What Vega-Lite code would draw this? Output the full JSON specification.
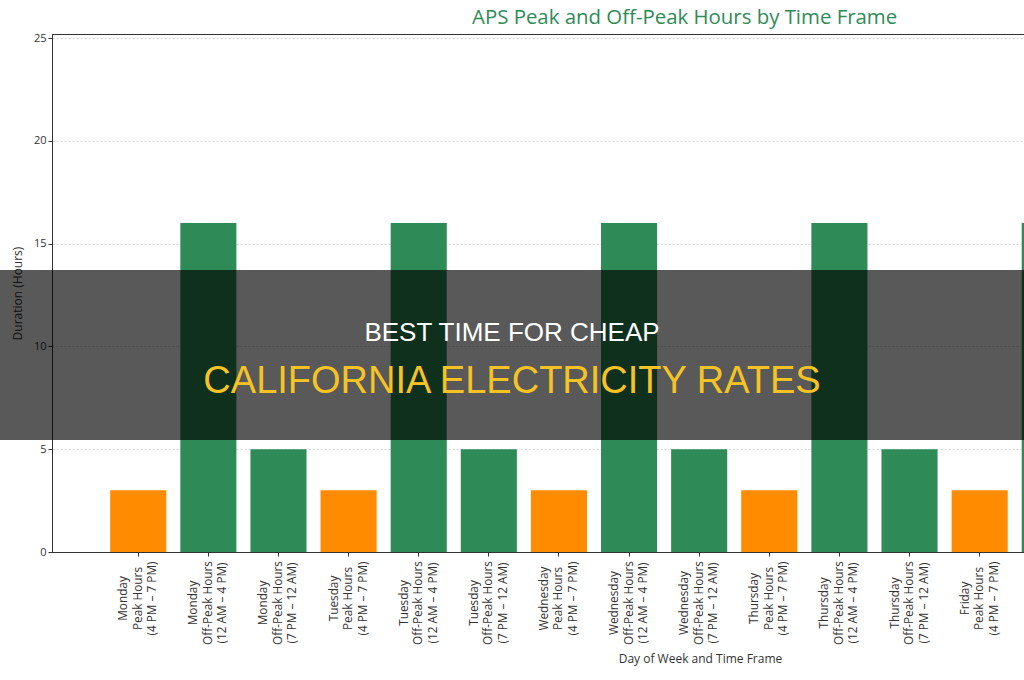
{
  "$schema": "https://vega.github.io/schema/vega-lite/v6.json",
  "autosize": {"type": "none"},
  "padding": {"left": 52, "top": 34, "right": 0, "bottom": 128},
  "width": 972,
  "height": 518,
  "background": "white",
  "config": {
    "view": {"stroke": "#333333", "strokeWidth": 1},
    "font": "Open Sans"
  },
  "title": {
    "text": "APS Peak and Off-Peak Hours by Time Frame",
    "anchor": "start",
    "dx": 472,
    "offset": 4,
    "font": "Open Sans",
    "fontSize": 20.4,
    "fontWeight": "normal",
    "color": "#2e8b57"
  },
  "layer": [
    {
      "data": {
        "values": [
          {"frame": "Monday|Peak Hours|(4 PM – 7 PM)", "type": "Peak", "hours": 3},
          {"frame": "Monday|Off-Peak Hours|(12 AM – 4 PM)", "type": "Off-Peak", "hours": 16},
          {"frame": "Monday|Off-Peak Hours|(7 PM – 12 AM)", "type": "Off-Peak", "hours": 5},
          {"frame": "Tuesday|Peak Hours|(4 PM – 7 PM)", "type": "Peak", "hours": 3},
          {"frame": "Tuesday|Off-Peak Hours|(12 AM – 4 PM)", "type": "Off-Peak", "hours": 16},
          {"frame": "Tuesday|Off-Peak Hours|(7 PM – 12 AM)", "type": "Off-Peak", "hours": 5},
          {"frame": "Wednesday|Peak Hours|(4 PM – 7 PM)", "type": "Peak", "hours": 3},
          {"frame": "Wednesday|Off-Peak Hours|(12 AM – 4 PM)", "type": "Off-Peak", "hours": 16},
          {"frame": "Wednesday|Off-Peak Hours|(7 PM – 12 AM)", "type": "Off-Peak", "hours": 5},
          {"frame": "Thursday|Peak Hours|(4 PM – 7 PM)", "type": "Peak", "hours": 3},
          {"frame": "Thursday|Off-Peak Hours|(12 AM – 4 PM)", "type": "Off-Peak", "hours": 16},
          {"frame": "Thursday|Off-Peak Hours|(7 PM – 12 AM)", "type": "Off-Peak", "hours": 5},
          {"frame": "Friday|Peak Hours|(4 PM – 7 PM)", "type": "Peak", "hours": 3},
          {"frame": "Friday|Off-Peak Hours|(12 AM – 4 PM)", "type": "Off-Peak", "hours": 16}
        ]
      },
      "mark": {"type": "bar", "clip": true},
      "encoding": {
        "x": {
          "field": "frame",
          "type": "nominal",
          "sort": null,
          "scale": {"type": "band", "paddingInner": 0.2, "paddingOuter": 0.83, "range": [0, 1084]},
          "axis": {
            "title": "Day of Week and Time Frame",
            "titleFont": "Open Sans",
            "titleFontSize": 12,
            "titleFontWeight": "normal",
            "titleColor": "#333333",
            "titleX": 648,
            "titleY": 101,
            "labelExpr": "split(datum.label, '|')",
            "labelAngle": -90,
            "labelAlign": "center",
            "labelBaseline": "middle",
            "labelOffset": -15,
            "labelFont": "Open Sans",
            "labelFontSize": 11.8,
            "labelLineHeight": 14.5,
            "labelColor": "#333333",
            "labelPadding": {"condition": {"test": "indexof(datum.value, 'Off') >= 0", "value": 46.5}, "value": 42},
            "labelOverlap": false,
            "labelLimit": 0,
            "labelBound": false,
            "labelFlush": false,
            "tickSize": 4,
            "tickColor": "#333333",
            "domainColor": "#333333",
            "grid": false
          }
        },
        "y": {
          "field": "hours",
          "type": "quantitative",
          "scale": {"domain": [0, 25.2], "nice": false},
          "axis": {
            "title": "Duration (Hours)",
            "titleFont": "Open Sans",
            "titleFontSize": 12,
            "titleFontWeight": "normal",
            "titleColor": "#333333",
            "titlePadding": 9,
            "values": [0, 5, 10, 15, 20, 25],
            "labelFont": "Open Sans",
            "labelFontSize": 11,
            "labelColor": "#333333",
            "labelPadding": 2,
            "tickSize": 4,
            "tickColor": "#333333",
            "domainColor": "#333333",
            "grid": true,
            "gridColor": "#cccccc",
            "gridDash": [2, 2],
            "gridWidth": 0.8
          }
        },
        "color": {
          "field": "type",
          "type": "nominal",
          "scale": {"domain": ["Peak", "Off-Peak"], "range": ["#ff8c00", "#2e8b57"]},
          "legend": null
        }
      }
    },
    {
      "data": {"values": [{"top": 13.72, "bottom": 5.45}]},
      "mark": {"type": "rect", "x": -52, "x2": "width", "fill": "#000000", "fillOpacity": 0.65, "strokeWidth": 0},
      "encoding": {
        "y": {"field": "top", "type": "quantitative"},
        "y2": {"field": "bottom"}
      }
    },
    {
      "data": {"values": [{"banner": "BEST TIME FOR CHEAP", "pos": 10.63}]},
      "mark": {"type": "text", "x": 460, "font": "Liberation Sans", "fontSize": 26, "fill": "#ffffff", "align": "center", "baseline": "middle"},
      "encoding": {
        "y": {"field": "pos", "type": "quantitative"},
        "text": {"field": "banner"}
      }
    },
    {
      "data": {"values": [{"banner": "CALIFORNIA ELECTRICITY RATES", "pos": 8.27}]},
      "mark": {"type": "text", "x": 460, "font": "Liberation Sans", "fontSize": 38, "fill": "#f6c324", "align": "center", "baseline": "middle"},
      "encoding": {
        "y": {"field": "pos", "type": "quantitative"},
        "text": {"field": "banner"}
      }
    }
  ]
}
